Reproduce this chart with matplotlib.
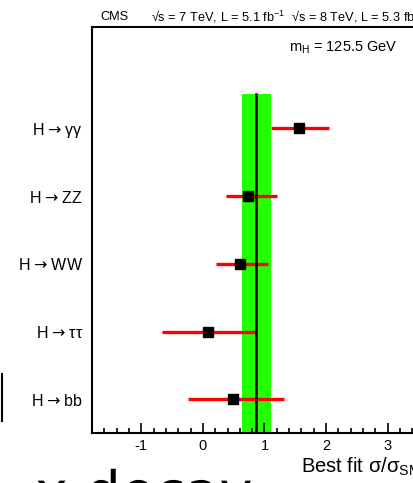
import matplotlib
matplotlib.use("Agg")
import matplotlib.pyplot as plt
import matplotlib.patheffects as pe
from matplotlib.lines import Line2D

plt.rcParams['font.family'] = ['Liberation Sans', 'DejaVu Sans']
plt.rcParams['mathtext.fontset'] = 'custom'
plt.rcParams['mathtext.rm'] = 'Liberation Sans'
plt.rcParams['mathtext.it'] = 'Liberation Sans:italic'
plt.rcParams['mathtext.sf'] = 'DejaVu Sans'
plt.rcParams['axes.unicode_minus'] = False

# best fit signal strength per decay channel
channels = ["γγ", "ZZ", "WW", "ττ", "bb"]
mu = [1.56, 0.73, 0.61, 0.09, 0.49]
mu_lo = [1.11, 0.37, 0.21, -0.67, -0.24]
mu_hi = [2.04, 1.21, 1.05, 0.87, 1.32]

# combined result
comb = 0.87
comb_lo = 0.64
comb_hi = 1.10

W, H = 413, 483
fig = plt.figure(figsize=(W/100, H/100), dpi=100)
ax = fig.add_axes([92/W, 1 - 433.3/H, 357.3/W, 406.6/H])

n = len(channels)
ypos = [n - i - 0.5 for i in range(n)]

ax.fill_betweenx([0, n], comb_lo, comb_hi, color='#22ff00', lw=0, zorder=1)
for y, lo, hi in zip(ypos, mu_lo, mu_hi):
    ax.plot([lo, hi], [y, y], color='#ff0000', lw=2.4, solid_capstyle='butt', zorder=2)
ax.plot([comb, comb], [0, n], color='black', lw=1.8, zorder=3)
ax.plot(mu, ypos, 's', color='black', ms=7.5, zorder=4)

ax.set_xlim(-1.8, 4.0)
ax.set_ylim(0, 6)
ax.set_xticks([-1, 0, 1, 2, 3, 4])
ax.set_xticks([x / 5 for x in range(-9, 20)], minor=True)
ax.tick_params(axis='x', which='major', direction='in', length=7, width=1.2, labelsize=10.5, pad=4)
ax.tick_params(axis='x', which='minor', direction='in', length=3.5, width=1.2)
ax.set_yticks(ypos)
ax.set_yticklabels([r"H$\hspace{0.1}\mathsf{\rightarrow}\hspace{0.1}$" + c for c in channels],
                   fontsize=11.5)
ax.tick_params(axis='y', length=0, pad=6.5)
for s in ax.spines.values():
    s.set_linewidth(1.5)

fig.text(100/W, 1 - 17/H, "CMS", fontsize=9.2, va='center', ha='left')
fig.text(151/W, 1 - 17/H,
         r"√s = 7 TeV, L = 5.1 fb$^{-1}$  √s = 8 TeV, L = 5.3 fb$^{-1}$",
         fontsize=9.2, va='center', ha='left')
fig.text(289/W, 1 - 48/H, r"m$_{\rm H}$ = 125.5 GeV", fontsize=10.5, va='center', ha='left')
fig.text(301/W, 1 - 473/H, r"Best fit σ/σ$_{\rm SM}$", fontsize=14.5, va='baseline', ha='left')

# cropped leftovers at the picture edges
fig.text(35/W, (H - 511)/H, "x decay", fontsize=40, va='baseline', ha='left',
         family='DejaVu Sans', path_effects=[pe.Normal()])
fig.add_artist(Line2D([1.5/W, 1.5/W], [1 - 374/H, 1 - 421/H], color='black', lw=1.5))

fig.savefig("out.png", dpi=100)
